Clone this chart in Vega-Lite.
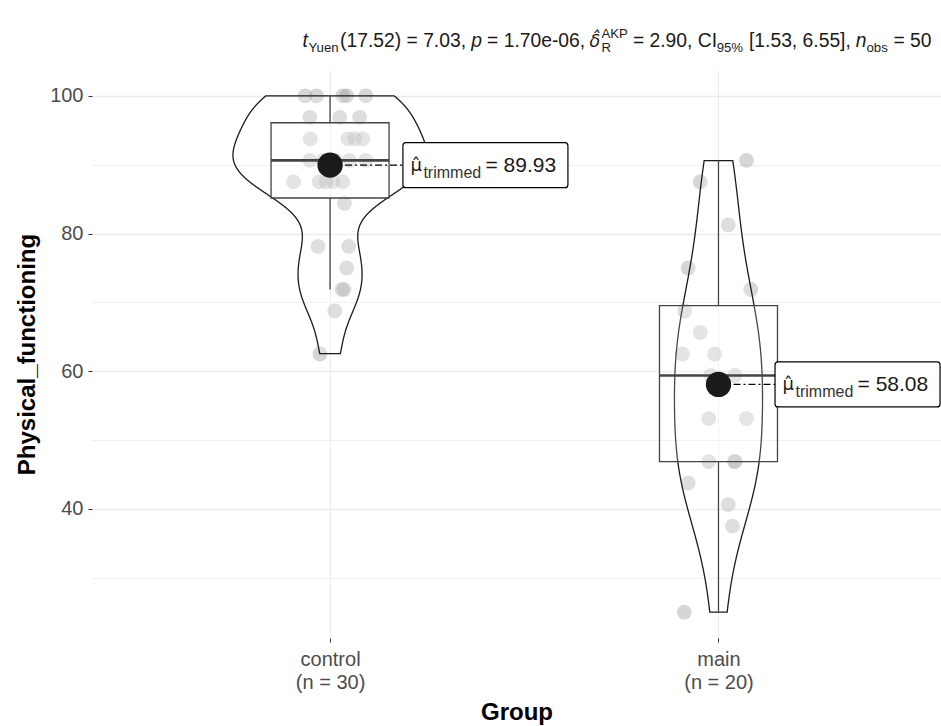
{
  "$schema": "https://vega.github.io/schema/vega-lite/v6.json",
  "width": 849,
  "height": 568,
  "autosize": {"type": "none"},
  "padding": {"left": 92, "top": 70, "right": 0, "bottom": 88},
  "background": "white",
  "config": {
    "font": "Liberation Sans",
    "view": {"stroke": null},
    "axis": {
      "domain": false,
      "grid": true,
      "gridColor": "#EBEBEB",
      "tickColor": "#333333",
      "tickSize": 4,
      "labelColor": "#4D4D4D",
      "labelFont": "Liberation Sans",
      "labelFontSize": 20,
      "titleFont": "Liberation Sans",
      "titleFontSize": 24,
      "titleFontWeight": "bold",
      "titleColor": "#000000"
    }
  },
  "datasets": {
    "obs": [
      {"Group": "control", "value": 100, "jitter": -0.064},
      {"Group": "control", "value": 100, "jitter": -0.035},
      {"Group": "control", "value": 100, "jitter": 0.033},
      {"Group": "control", "value": 100, "jitter": 0.043},
      {"Group": "control", "value": 100, "jitter": 0.092},
      {"Group": "control", "value": 96.875, "jitter": -0.052},
      {"Group": "control", "value": 96.875, "jitter": 0.025},
      {"Group": "control", "value": 96.875, "jitter": 0.076},
      {"Group": "control", "value": 93.75, "jitter": -0.051},
      {"Group": "control", "value": 93.75, "jitter": 0.046},
      {"Group": "control", "value": 93.75, "jitter": 0.064},
      {"Group": "control", "value": 93.75, "jitter": 0.084},
      {"Group": "control", "value": 90.625, "jitter": -0.052},
      {"Group": "control", "value": 90.625, "jitter": 0.05},
      {"Group": "control", "value": 90.625, "jitter": 0.092},
      {"Group": "control", "value": 90.625, "jitter": -0.018},
      {"Group": "control", "value": 90.625, "jitter": 0.015},
      {"Group": "control", "value": 87.5, "jitter": -0.094},
      {"Group": "control", "value": 87.5, "jitter": -0.01},
      {"Group": "control", "value": 87.5, "jitter": 0.033},
      {"Group": "control", "value": 87.5, "jitter": -0.028},
      {"Group": "control", "value": 87.5, "jitter": 0.008},
      {"Group": "control", "value": 84.375, "jitter": 0.037},
      {"Group": "control", "value": 78.125, "jitter": -0.031},
      {"Group": "control", "value": 78.125, "jitter": 0.048},
      {"Group": "control", "value": 75, "jitter": 0.043},
      {"Group": "control", "value": 71.875, "jitter": 0.031},
      {"Group": "control", "value": 71.875, "jitter": 0.036},
      {"Group": "control", "value": 68.75, "jitter": 0.012},
      {"Group": "control", "value": 62.5, "jitter": -0.026},
      {"Group": "main", "value": 90.625, "jitter": 0.072},
      {"Group": "main", "value": 87.5, "jitter": -0.047},
      {"Group": "main", "value": 81.25, "jitter": 0.025},
      {"Group": "main", "value": 75, "jitter": -0.078},
      {"Group": "main", "value": 71.875, "jitter": 0.083},
      {"Group": "main", "value": 68.75, "jitter": -0.087},
      {"Group": "main", "value": 65.625, "jitter": -0.047},
      {"Group": "main", "value": 62.5, "jitter": -0.093},
      {"Group": "main", "value": 62.5, "jitter": -0.01},
      {"Group": "main", "value": 59.375, "jitter": 0.042},
      {"Group": "main", "value": 59.375, "jitter": -0.02},
      {"Group": "main", "value": 53.125, "jitter": -0.025},
      {"Group": "main", "value": 53.125, "jitter": 0.072},
      {"Group": "main", "value": 46.875, "jitter": -0.025},
      {"Group": "main", "value": 46.875, "jitter": 0.041},
      {"Group": "main", "value": 46.875, "jitter": 0.043},
      {"Group": "main", "value": 43.75, "jitter": -0.078},
      {"Group": "main", "value": 40.625, "jitter": 0.025},
      {"Group": "main", "value": 37.5, "jitter": 0.036},
      {"Group": "main", "value": 25, "jitter": -0.088}
    ],
    "box": [
      {"Group": "control", "lower": 71.875, "q1": 85.16, "median": 90.625, "q3": 96.09, "upper": 100},
      {"Group": "main", "lower": 25, "q1": 46.875, "median": 59.375, "q3": 69.53, "upper": 90.625}
    ],
    "centre": [
      {"Group": "control", "tmean": 89.93},
      {"Group": "main", "tmean": 58.08}
    ]
  },
  "layer": [
    {
      "data": {"name": "obs"},
      "transform": [
        {"calculate": "indexof(['control','main'], datum.Group) + 1", "as": "gi"},
        {"calculate": "datum.gi + datum.jitter", "as": "xj"}
      ],
      "mark": {"type": "circle", "size": 220, "fill": "#999999", "opacity": 0.4, "strokeWidth": 0},
      "encoding": {
        "x": {
          "field": "xj", "type": "quantitative", "title": "Group",
          "scale": {"domain": [0.4, 2.56], "nice": false, "zero": false},
          "axis": {
            "values": [1, 2],
            "labelExpr": "datum.value == 1 ? ['control', '(n = 30)'] : ['main', '(n = 20)']",
            "labelLineHeight": 23,
            "labelPadding": 7,
            "titlePadding": 8,
            "gridWidth": 1
          }
        },
        "y": {
          "field": "value", "type": "quantitative", "title": "Physical_functioning",
          "scale": {"domain": [21.25, 103.75], "nice": false, "zero": false},
          "axis": {
            "values": [30, 40, 50, 60, 70, 80, 90, 100],
            "labelExpr": "datum.value % 20 == 0 ? datum.label : ''",
            "tickOpacity": {"condition": {"test": "datum.value % 20 == 0", "value": 1}, "value": 0},
            "gridWidth": {"condition": {"test": "datum.value % 20 == 0", "value": 1.3}, "value": 0.8},
            "labelPadding": 5,
            "titlePadding": 10
          }
        }
      }
    },
    {
      "data": {"name": "obs"},
      "transform": [
        {"calculate": "indexof(['control','main'], datum.Group) + 1", "as": "gi"},
        {"joinaggregate": [
          {"op": "stdev", "field": "value", "as": "sd"},
          {"op": "q1", "field": "value", "as": "vq1"},
          {"op": "q3", "field": "value", "as": "vq3"},
          {"op": "count", "as": "n"},
          {"op": "min", "field": "value", "as": "vmin"},
          {"op": "max", "field": "value", "as": "vmax"}
        ], "groupby": ["Group"]},
        {"calculate": "0.9 * min(datum.sd, (datum.vq3 - datum.vq1) / 1.34) * pow(datum.n, -0.2)", "as": "bw"},
        {"calculate": "datum.value / datum.bw", "as": "z"},
        {"density": "z", "groupby": ["Group", "gi", "bw", "vmin", "vmax"], "bandwidth": 1, "steps": 2000, "as": ["z", "dz"]},
        {"calculate": "datum.z * datum.bw", "as": "yv"},
        {"calculate": "datum.dz / datum.bw", "as": "dv"},
        {"filter": "datum.yv >= datum.vmin - 1e-9 && datum.yv <= datum.vmax + 1e-9"},
        {"joinaggregate": [{"op": "max", "field": "dv", "as": "dmax"}]},
        {"calculate": "datum.gi - 0.25 * datum.dv / datum.dmax", "as": "xl"},
        {"calculate": "datum.gi + 0.25 * datum.dv / datum.dmax", "as": "xr"}
      ],
      "mark": {"type": "area", "orient": "horizontal", "fill": "white", "fillOpacity": 0.2, "stroke": "#1a1a1a", "strokeWidth": 1.3},
      "encoding": {
        "y": {"field": "yv", "type": "quantitative", "title": "Physical_functioning"},
        "x": {"field": "xl", "type": "quantitative", "title": "Group", "stack": null},
        "x2": {"field": "xr"},
        "detail": {"field": "Group"}
      }
    },
    {
      "data": {"name": "box"},
      "transform": [{"calculate": "indexof(['control','main'], datum.Group) + 1", "as": "gi"}],
      "mark": {"type": "bar", "width": 118, "fill": "white", "fillOpacity": 0.2, "stroke": "#444444", "strokeWidth": 1.3},
      "encoding": {
        "x": {"field": "gi", "type": "quantitative", "title": "Group"},
        "y": {"field": "q1", "type": "quantitative", "title": "Physical_functioning"},
        "y2": {"field": "q3"}
      }
    },
    {
      "data": {"name": "box"},
      "transform": [{"calculate": "indexof(['control','main'], datum.Group) + 1", "as": "gi"}],
      "mark": {"type": "rule", "color": "#444444", "strokeWidth": 1.3},
      "encoding": {
        "x": {"field": "gi", "type": "quantitative", "title": "Group"},
        "y": {"field": "lower", "type": "quantitative", "title": "Physical_functioning"},
        "y2": {"field": "q1"}
      }
    },
    {
      "data": {"name": "box"},
      "transform": [{"calculate": "indexof(['control','main'], datum.Group) + 1", "as": "gi"}],
      "mark": {"type": "rule", "color": "#444444", "strokeWidth": 1.3},
      "encoding": {
        "x": {"field": "gi", "type": "quantitative", "title": "Group"},
        "y": {"field": "q3", "type": "quantitative", "title": "Physical_functioning"},
        "y2": {"field": "upper"}
      }
    },
    {
      "data": {"name": "box"},
      "transform": [{"calculate": "indexof(['control','main'], datum.Group) + 1", "as": "gi"}],
      "mark": {"type": "tick", "orient": "horizontal", "size": 118, "thickness": 2.6, "color": "#444444", "opacity": 1},
      "encoding": {
        "x": {"field": "gi", "type": "quantitative", "title": "Group"},
        "y": {"field": "median", "type": "quantitative", "title": "Physical_functioning"}
      }
    },
    {
      "data": {"name": "centre"},
      "transform": [
        {"calculate": "indexof(['control','main'], datum.Group) + 1", "as": "gi"},
        {"calculate": "min(datum.gi + 0.4, 2.358)", "as": "lx"},
        {"calculate": "datum.lx - 0.21", "as": "sx2"}
      ],
      "mark": {"type": "rule", "color": "#000000", "strokeWidth": 1.2, "strokeDash": [7, 3, 2, 3]},
      "encoding": {
        "x": {"field": "gi", "type": "quantitative", "title": "Group"},
        "x2": {"field": "sx2"},
        "y": {"field": "tmean", "type": "quantitative", "title": "Physical_functioning"}
      }
    },
    {
      "data": {"name": "centre"},
      "transform": [{"calculate": "indexof(['control','main'], datum.Group) + 1", "as": "gi"}],
      "mark": {"type": "circle", "size": 640, "fill": "#1a1a1a", "opacity": 1},
      "encoding": {
        "x": {"field": "gi", "type": "quantitative", "title": "Group"},
        "y": {"field": "tmean", "type": "quantitative", "title": "Physical_functioning"}
      }
    },
    {
      "data": {"name": "centre"},
      "transform": [
        {"calculate": "indexof(['control','main'], datum.Group) + 1", "as": "gi"},
        {"calculate": "min(datum.gi + 0.4, 2.358)", "as": "lx"},
        {"calculate": "datum.tmean - 3.27", "as": "lo"},
        {"calculate": "datum.tmean + 3.27", "as": "hi"}
      ],
      "mark": {"type": "bar", "width": 165, "fill": "white", "stroke": "#000000", "strokeWidth": 1.2, "cornerRadius": 3},
      "encoding": {
        "x": {"field": "lx", "type": "quantitative", "title": "Group"},
        "y": {"field": "lo", "type": "quantitative", "title": "Physical_functioning"},
        "y2": {"field": "hi"}
      }
    },
    {
      "data": {"name": "centre"},
      "transform": [
        {"calculate": "indexof(['control','main'], datum.Group) + 1", "as": "gi"},
        {"calculate": "min(datum.gi + 0.4, 2.358)", "as": "lx"}
      ],
      "mark": {"type": "text", "align": "left", "baseline": "alphabetic", "dx": -75, "dy": 6, "font": "DejaVu Sans", "fontSize": 18, "color": "#1a1a1a", "text": "μ̂"},
      "encoding": {
        "x": {"field": "lx", "type": "quantitative", "title": "Group"},
        "y": {"field": "tmean", "type": "quantitative", "title": "Physical_functioning"}
      }
    },
    {
      "data": {"name": "centre"},
      "transform": [
        {"calculate": "indexof(['control','main'], datum.Group) + 1", "as": "gi"},
        {"calculate": "min(datum.gi + 0.4, 2.358)", "as": "lx"}
      ],
      "mark": {"type": "text", "align": "left", "baseline": "alphabetic", "dx": -62, "dy": 13, "fontSize": 16, "color": "#333333", "text": "trimmed"},
      "encoding": {
        "x": {"field": "lx", "type": "quantitative", "title": "Group"},
        "y": {"field": "tmean", "type": "quantitative", "title": "Physical_functioning"}
      }
    },
    {
      "data": {"name": "centre"},
      "transform": [
        {"calculate": "indexof(['control','main'], datum.Group) + 1", "as": "gi"},
        {"calculate": "min(datum.gi + 0.4, 2.358)", "as": "lx"},
        {"calculate": "'= ' + format(datum.tmean, '.2f')", "as": "label"}
      ],
      "mark": {"type": "text", "align": "left", "baseline": "alphabetic", "dx": 0, "dy": 7, "fontSize": 21, "color": "#1a1a1a"},
      "encoding": {
        "x": {"field": "lx", "type": "quantitative", "title": "Group"},
        "y": {"field": "tmean", "type": "quantitative", "title": "Physical_functioning"},
        "text": {"field": "label"}
      }
    },
    {
      "data": {"values": [{}]},
      "mark": {"type": "text", "align": "left", "baseline": "alphabetic", "dx": 0, "fontSize": 19.3, "fontStyle": "italic", "color": "#1a1a1a", "text": "t"},
      "encoding": {"x": {"datum": 0.92926, "type": "quantitative", "title": "Group"}, "y": {"datum": 107.09, "type": "quantitative", "title": "Physical_functioning"}}
    },
    {
      "data": {"values": [{}]},
      "mark": {"type": "text", "align": "left", "baseline": "alphabetic", "dx": 5.9, "dy": 5, "fontSize": 13.2, "color": "#1a1a1a", "text": "Yuen"},
      "encoding": {"x": {"datum": 0.92926, "type": "quantitative", "title": "Group"}, "y": {"datum": 107.09, "type": "quantitative", "title": "Physical_functioning"}}
    },
    {
      "data": {"values": [{}]},
      "mark": {"type": "text", "align": "left", "baseline": "alphabetic", "dx": 37.5, "fontSize": 19.3, "color": "#1a1a1a", "text": "(17.52) = 7.03,"},
      "encoding": {"x": {"datum": 0.92926, "type": "quantitative", "title": "Group"}, "y": {"datum": 107.09, "type": "quantitative", "title": "Physical_functioning"}}
    },
    {
      "data": {"values": [{}]},
      "mark": {"type": "text", "align": "left", "baseline": "alphabetic", "dx": 168.6, "fontSize": 19.3, "fontStyle": "italic", "color": "#1a1a1a", "text": "p"},
      "encoding": {"x": {"datum": 0.92926, "type": "quantitative", "title": "Group"}, "y": {"datum": 107.09, "type": "quantitative", "title": "Physical_functioning"}}
    },
    {
      "data": {"values": [{}]},
      "mark": {"type": "text", "align": "left", "baseline": "alphabetic", "dx": 184.5, "fontSize": 19.3, "color": "#1a1a1a", "text": "= 1.70e-06,"},
      "encoding": {"x": {"datum": 0.92926, "type": "quantitative", "title": "Group"}, "y": {"datum": 107.09, "type": "quantitative", "title": "Physical_functioning"}}
    },
    {
      "data": {"values": [{}]},
      "mark": {"type": "text", "align": "left", "baseline": "alphabetic", "dx": 287.0, "font": "DejaVu Sans", "fontSize": 17.5, "fontStyle": "italic", "color": "#1a1a1a", "text": "δ̂"},
      "encoding": {"x": {"datum": 0.92926, "type": "quantitative", "title": "Group"}, "y": {"datum": 107.09, "type": "quantitative", "title": "Physical_functioning"}}
    },
    {
      "data": {"values": [{}]},
      "mark": {"type": "text", "align": "left", "baseline": "alphabetic", "dx": 298.8, "dy": -9, "fontSize": 13.2, "color": "#1a1a1a", "text": "AKP"},
      "encoding": {"x": {"datum": 0.92926, "type": "quantitative", "title": "Group"}, "y": {"datum": 107.09, "type": "quantitative", "title": "Physical_functioning"}}
    },
    {
      "data": {"values": [{}]},
      "mark": {"type": "text", "align": "left", "baseline": "alphabetic", "dx": 298.8, "dy": 5, "fontSize": 13.2, "color": "#1a1a1a", "text": "R"},
      "encoding": {"x": {"datum": 0.92926, "type": "quantitative", "title": "Group"}, "y": {"datum": 107.09, "type": "quantitative", "title": "Physical_functioning"}}
    },
    {
      "data": {"values": [{}]},
      "mark": {"type": "text", "align": "left", "baseline": "alphabetic", "dx": 330.3, "fontSize": 19.3, "color": "#1a1a1a", "text": "= 2.90, CI"},
      "encoding": {"x": {"datum": 0.92926, "type": "quantitative", "title": "Group"}, "y": {"datum": 107.09, "type": "quantitative", "title": "Physical_functioning"}}
    },
    {
      "data": {"values": [{}]},
      "mark": {"type": "text", "align": "left", "baseline": "alphabetic", "dx": 414.1, "dy": 5, "fontSize": 13.2, "color": "#1a1a1a", "text": "95%"},
      "encoding": {"x": {"datum": 0.92926, "type": "quantitative", "title": "Group"}, "y": {"datum": 107.09, "type": "quantitative", "title": "Physical_functioning"}}
    },
    {
      "data": {"values": [{}]},
      "mark": {"type": "text", "align": "left", "baseline": "alphabetic", "dx": 446.4, "fontSize": 19.3, "color": "#1a1a1a", "text": "[1.53, 6.55],"},
      "encoding": {"x": {"datum": 0.92926, "type": "quantitative", "title": "Group"}, "y": {"datum": 107.09, "type": "quantitative", "title": "Physical_functioning"}}
    },
    {
      "data": {"values": [{}]},
      "mark": {"type": "text", "align": "left", "baseline": "alphabetic", "dx": 553.1, "fontSize": 19.3, "fontStyle": "italic", "color": "#1a1a1a", "text": "n"},
      "encoding": {"x": {"datum": 0.92926, "type": "quantitative", "title": "Group"}, "y": {"datum": 107.09, "type": "quantitative", "title": "Physical_functioning"}}
    },
    {
      "data": {"values": [{}]},
      "mark": {"type": "text", "align": "left", "baseline": "alphabetic", "dx": 563.9, "dy": 5, "fontSize": 13.2, "color": "#1a1a1a", "text": "obs"},
      "encoding": {"x": {"datum": 0.92926, "type": "quantitative", "title": "Group"}, "y": {"datum": 107.09, "type": "quantitative", "title": "Physical_functioning"}}
    },
    {
      "data": {"values": [{}]},
      "mark": {"type": "text", "align": "left", "baseline": "alphabetic", "dx": 590.9, "fontSize": 19.3, "color": "#1a1a1a", "text": "= 50"},
      "encoding": {"x": {"datum": 0.92926, "type": "quantitative", "title": "Group"}, "y": {"datum": 107.09, "type": "quantitative", "title": "Physical_functioning"}}
    }
  ]
}
